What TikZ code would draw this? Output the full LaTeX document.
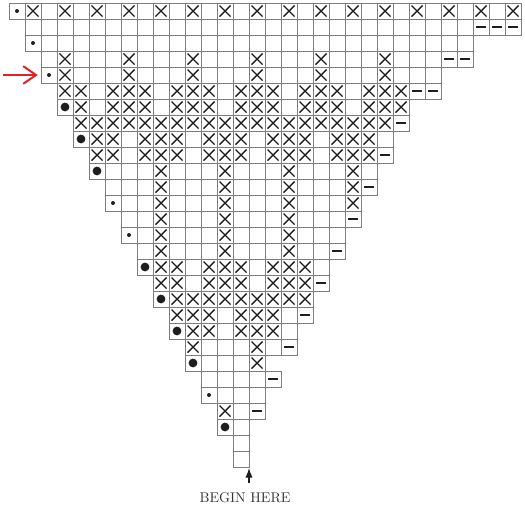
\documentclass[tikz,border=0pt]{standalone}
\usepackage{tikz}
\usetikzlibrary{arrows.meta, positioning, shapes.misc}
\definecolor{chartred}{RGB}{226, 32, 38}
\definecolor{chartline}{RGB}{125, 125, 125}
\definecolor{chartink}{RGB}{30, 30, 30}

\begin{document}
\begin{tikzpicture}[
        x=0.4cm, y=0.4cm,
        cell/.style={draw=chartline, line width=0.6pt},
        xmark/.style={cross out, draw=chartink, line width=1pt, minimum size=0.24cm, inner sep=0pt},
        purlmark/.style={fill=chartink, minimum width=0.25cm, minimum height=0.032cm, inner sep=0pt},
        smalldot/.style={circle, fill=chartink, minimum size=0.1cm, inner sep=0pt},
        bigdot/.style={circle, fill=chartink, minimum size=0.22cm, inner sep=0pt},
    ]
        \useasboundingbox (-0.5625,0.1875) rectangle (32.25,-31.375);

        % Chart rows: row / first column / last column
        \foreach \r/\a/\b in {0/0/31, 1/1/31, 2/1/28, 3/2/28, 4/2/26, 5/3/26, 6/3/24,
                7/4/24, 8/4/23, 9/5/23, 10/5/22, 11/6/22, 12/6/21, 13/7/21, 14/7/20,
                15/8/20, 16/8/19, 17/9/19, 18/9/18, 19/10/18, 20/10/17, 21/11/17,
                22/11/15, 23/12/16, 24/12/15, 25/13/15, 26/13/14, 27/14/14, 28/14/14} {
            \foreach \c in {\a,...,\b} {
                \draw[cell] (\c,-\r) rectangle ++(1,-1);
            }
        }

        % Crosses, row by row
        \foreach \r/\cols in {0/{1,3,...,31}, 3/{3,7,...,23}, 4/{3,7,...,23},
                5/{3,4,6,7,8,10,11,12,14,15,16,18,19,20,22,23,24},
                6/{4,6,7,8,10,11,12,14,15,16,18,19,20,22,23,24},
                7/{4,...,23},
                8/{5,6,8,9,10,12,13,14,16,17,18,20,21,22},
                9/{5,6,8,9,10,12,13,14,16,17,18,20,21,22},
                10/{9,13,17,21}, 11/{9,13,17,21}, 12/{9,13,17,21},
                13/{9,13,17}, 14/{9,13,17}, 15/{9,13,17},
                16/{9,10,12,13,14,16,17,18}, 17/{9,10,12,13,14,16,17,18},
                18/{10,...,18}, 19/{10,11,12,14,15,16}, 20/{11,12,14,15,16},
                21/{11,15}, 22/{15}, 25/{13}} {
            \foreach \c in \cols {
                \node[xmark] (x-\r-\c) at (\c+0.5,-\r-0.5) {};
            }
        }

        % Dashes: column / row
        \foreach \c/\r in {29/1, 30/1, 31/1, 27/3, 28/3, 25/5, 26/5, 24/7, 23/9,
                22/11, 21/13, 20/15, 19/17, 18/19, 17/21, 16/23, 15/25} {
            \node[purlmark] (p-\r-\c) at (\c+0.5,-\r-0.5) {};
        }

        % Dots: column / row
        \foreach \c/\r in {0/0, 1/2, 2/4, 6/12, 7/14, 12/24} {
            \node[smalldot] (s-\r-\c) at (\c+0.5,-\r-0.5) {};
        }
        \foreach \c/\r in {3/6, 4/8, 5/10, 8/16, 9/18, 10/20, 11/22, 13/26} {
            \node[bigdot] (d-\r-\c) at (\c+0.5,-\r-0.5) {};
        }

        % Red marker at row 4
        \coordinate (redtail) at (-0.38,-4.5);
        \coordinate (redtip) at (1.8,-4.5);
        \draw[chartred, line width=1.4pt, -{Straight Barb[length=3.2mm, width=4.4mm]}] (redtail) -- (redtip);

        % Start arrow and label
        \coordinate (starttip) at (15,-29.06);
        \coordinate (starttail) at (15,-30);
        \draw[chartink, line width=0.8pt, -{Latex[length=2.4mm, width=1.8mm]}] (starttail) -- (starttip);
        \node[text=black!80] (begin) at (14.75,-30.9) {BEGIN HERE};
    \end{tikzpicture}
\end{document}
